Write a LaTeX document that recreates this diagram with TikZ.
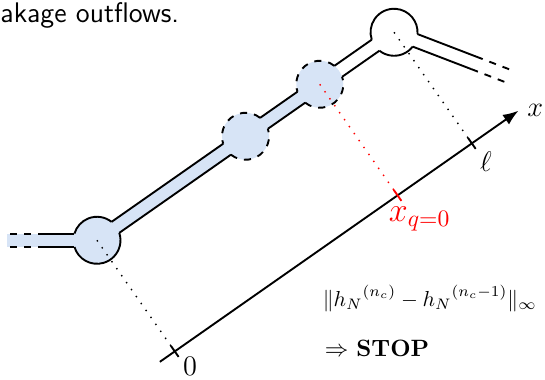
\documentclass[tikz,border=0pt]{standalone}
\usepackage{amsmath}
\usepackage{amssymb}
\usepackage{tikz}
\usetikzlibrary{arrows.meta, calc, positioning}
\definecolor{pipeblue}{RGB}{215,228,246}
\tikzset{
    >=Latex,
    pipe wall/.style={thick},
    valve wall/.style={thick, dashed},
    proj line/.style={semithick, dash pattern=on 0.6pt off 3pt},
    tick mark/.style={thick}
}

\begin{document}
\begin{tikzpicture}
    \useasboundingbox (0,0) rectangle (8.115,5.658);

    \def\r{0.35}    % junction radius
    \def\d{0.1}     % half pipe width
    \def\s{0.3354}  % sqrt(r^2-d^2)
    \def\g{16.6}    % asin(d/r)

    \node[anchor=base west, inner sep=0, font=\sffamily\large] (title) at (0,5.33) {akage outflows.};

    \begin{scope}[shift={(1.444,2.08)}, rotate=35]
        \coordinate (c1) at (0,0);
        \coordinate (c2) at (2.7,0);
        \coordinate (c3) at (4.05,0);
        \coordinate (c4) at (5.4,0);

        \fill[pipeblue] (0,-\d) rectangle (4.05,\d);
        \foreach \p in {c1,c2,c3}
            \fill[pipeblue] (\p) circle (\r);

        % inflow on the left
        \begin{scope}[rotate=145]
            \fill[pipeblue] (0,-\d) rectangle (1.34,\d);
            \foreach \y in {\d,-\d} {
                \draw[pipe wall] (\s,\y) -- (0.774,\y);
                \draw[pipe wall, dashed] (0.774,\y) -- (1.34,\y);
            }
        \end{scope}

        % outflow on the right
        \begin{scope}[shift={(5.4,0)}, rotate=-56]
            \foreach \y in {\d,-\d} {
                \draw[pipe wall] (\s,\y) -- (1.27,\y);
                \draw[pipe wall, dashed] (1.27,\y) -- (1.83,\y);
            }
        \end{scope}

        \foreach \a/\b in {0/2.7, 2.7/4.05, 4.05/5.4}
            \foreach \y in {\d,-\d}
                \draw[pipe wall] (\a+\s,\y) -- (\b-\s,\y);

        % junctions
        \draw[pipe wall] (0,0) ++(\g:\r) arc[start angle=\g, end angle=145-\g, radius=\r];
        \draw[pipe wall] (0,0) ++(145+\g:\r) arc[start angle=145+\g, end angle=360-\g, radius=\r];
        \foreach \x in {2.7,4.05} {
            \draw[valve wall] (\x,0) ++(\g:\r) arc[start angle=\g, end angle=180-\g, radius=\r];
            \draw[valve wall] (\x,0) ++(180+\g:\r) arc[start angle=180+\g, end angle=360-\g, radius=\r];
        }
        \draw[pipe wall] (5.4,0) ++(-56+\g:\r) arc[start angle=-56+\g, end angle=180-\g, radius=\r];
        \draw[pipe wall] (5.4,0) ++(180+\g:\r) arc[start angle=180+\g, end angle=304-\g, radius=\r];
    \end{scope}

    % x axis
    \coordinate (ax0) at (2.38,0.27);
    \coordinate (ax1) at ($(ax0)+(35:6.52)$);
    \draw[thick, ->] (ax0) -- (ax1) node[right, font=\large] (xlab) {$x$};

    \coordinate (t0) at ($(ax0)!(c1)!(ax1)$);
    \coordinate (tq) at ($(ax0)!(c3)!(ax1)$);
    \coordinate (tl) at ($(ax0)!(c4)!(ax1)$);

    \draw[proj line] (c1) -- (t0);
    \draw[proj line] (c4) -- (tl);
    \draw[proj line, red] (c3) -- (tq);

    \foreach \t in {t0,tl}
        \draw[tick mark] ($(\t)!1mm!90:(ax1)$) -- ($(\t)!1mm!-90:(ax1)$);
    \draw[tick mark, red] ($(tq)!1mm!90:(ax1)$) -- ($(tq)!1mm!-90:(ax1)$);

    \node[below right, yshift=0.4mm, font=\large] (zero) at (t0) {$0$};
    \node[below right, font=\large] (ell) at (tl) {$\ell$};
    \node[below, xshift=3.3mm, yshift=-0.5mm, red, font=\Large] (xq) at (tq) {$x_{q=0}$};

    \node[anchor=base west, inner sep=0, scale=0.92, transform shape] (norm) at (4.80,1.10)
        {$\|{h_N}^{(n_c)} - {h_N}^{(n_c-1)}\|_\infty$};
    \node[anchor=base west, inner sep=0] (stop) at (4.83,0.357)
        {$\Rightarrow$ \textbf{STOP}};

\end{tikzpicture}
\end{document}
